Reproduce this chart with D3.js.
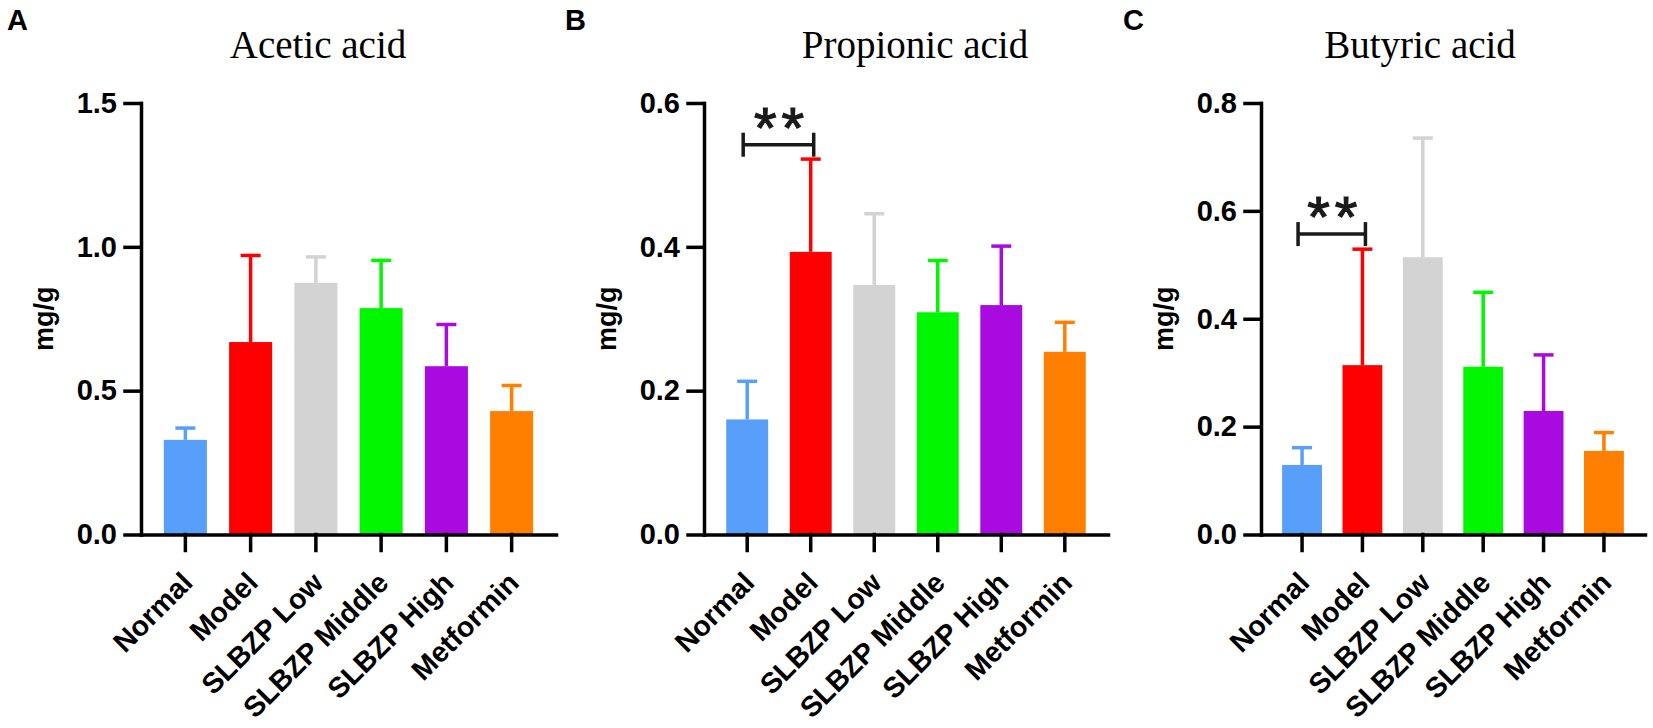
<!DOCTYPE html>
<html>
<head>
<meta charset="utf-8">
<script src="https://cdn.jsdelivr.net/npm/d3@7"></script>
<style>
  body { margin: 0; background: #fff; }
  .axis path, .axis line { stroke: #000; stroke-width: 3.5px; stroke-linecap: square; }
  .axis text { font-family: 'Liberation Sans', Arial, sans-serif; font-weight: bold; fill: #000; }
</style>
</head>
<body>
<div class="chart"></div>
<script>
/* global d3 */

const groups = ['Normal', 'Model', 'SLBZP Low', 'SLBZP Middle', 'SLBZP High', 'Metformin'];
const groupColors = ['#579ffa', '#ff0000', '#d3d3d3', '#00f700', '#a90adf', '#ff7f00'];

// mean and SD (upper error bar) per group
const aceticMean = [0.329, 0.669, 0.875, 0.787, 0.585, 0.429];
const aceticSD = [0.041, 0.301, 0.090, 0.166, 0.145, 0.089];
const propionicMean = [0.160, 0.393, 0.347, 0.309, 0.319, 0.254];
const propionicSD = [0.053, 0.129, 0.099, 0.072, 0.082, 0.041];
const butyricMean = [0.129, 0.314, 0.514, 0.311, 0.229, 0.155];
const butyricSD = [0.032, 0.215, 0.221, 0.138, 0.104, 0.034];

const aceticTicks = [0, 0.5, 1.0, 1.5];
const propionicTicks = [0, 0.2, 0.4, 0.6];
const butyricTicks = [0, 0.2, 0.4, 0.6, 0.8];

// significance brackets: [from group, to group, level, label]
const propionicSig = [['Normal', 'Model', 0.542, '**']];
const butyricSig = [['Normal', 'Model', 0.557, '**']];

document.addEventListener('DOMContentLoaded', () => {
  const width = 1653;
  const height = 728;
  const baseline = 534.5;
  const top = 103;

  const panels = [
    {letter: 'A', title: 'Acetic acid', mean: aceticMean, sd: aceticSD, ticks: aceticTicks,
      sig: [], x0: 141, x1: 556, letterX: 7, titleX: 318},
    {letter: 'B', title: 'Propionic acid', mean: propionicMean, sd: propionicSD, ticks: propionicTicks,
      sig: propionicSig, x0: 704, x1: 1108, letterX: 565, titleX: 915},
    {letter: 'C', title: 'Butyric acid', mean: butyricMean, sd: butyricSD, ticks: butyricTicks,
      sig: butyricSig, x0: 1261, x1: 1645, letterX: 1123, titleX: 1420}
  ];

  const svg = d3.select('.chart').append('svg')
    .attr('width', width).attr('height', height);

  const color = d3.scaleOrdinal().domain(groups).range(groupColors);

  panels.forEach(p => {
    const g = svg.append('g');
    const data = groups.map((name, i) => ({name, mean: p.mean[i], sd: p.sd[i]}));

    const x = d3.scaleBand().domain(groups)
      .range([p.x0, p.x1]).paddingInner(0.34).paddingOuter(0.35);
    const y = d3.scaleLinear().domain([0, d3.max(p.ticks)])
      .range([baseline, top]);

    // bars
    g.selectAll('.bar').data(data)
      .enter().append('rect')
      .attr('class', 'bar')
      .attr('x', d => x(d.name))
      .attr('width', x.bandwidth())
      .attr('y', d => y(d.mean))
      .attr('height', d => y(0) - y(d.mean))
      .attr('fill', d => color(d.name));

    // upper error bars
    const capW = 20;
    const err = g.selectAll('.err').data(data)
      .enter().append('g')
      .attr('class', 'err')
      .attr('stroke', d => color(d.name))
      .attr('stroke-width', 3.5);
    err.append('line')
      .attr('x1', d => x(d.name) + x.bandwidth() / 2)
      .attr('x2', d => x(d.name) + x.bandwidth() / 2)
      .attr('y1', d => y(d.mean))
      .attr('y2', d => y(d.mean + d.sd));
    err.append('line')
      .attr('x1', d => x(d.name) + x.bandwidth() / 2 - capW / 2)
      .attr('x2', d => x(d.name) + x.bandwidth() / 2 + capW / 2)
      .attr('y1', d => y(d.mean + d.sd))
      .attr('y2', d => y(d.mean + d.sd));

    // axes
    g.append('g').attr('class', 'axis')
      .attr('transform', `translate(${p.x0},0)`)
      .call(d3.axisLeft(y).tickValues(p.ticks).tickSize(16).tickSizeOuter(0)
        .tickPadding(8).tickFormat(d3.format('.1f')))
      .selectAll('text').style('font-size', '29px');

    g.append('g').attr('class', 'axis')
      .attr('transform', `translate(0,${baseline})`)
      .call(d3.axisBottom(x).tickSize(16).tickSizeOuter(0))
      .selectAll('text')
      .style('font-size', '28.5px')
      .attr('text-anchor', 'end')
      .attr('x', 0).attr('y', 0).attr('dy', null)
      .attr('transform', 'translate(9,50) rotate(-45)');

    // y axis title
    g.append('text')
      .attr('transform', `translate(${p.x0 - 97},${(baseline + top) / 2}) rotate(-90)`)
      .attr('text-anchor', 'middle')
      .attr('dy', '0.35em')
      .style('font-family', "'Liberation Sans', Arial, sans-serif")
      .style('font-weight', 'bold')
      .style('font-size', '27px')
      .text('mg/g');

    // panel title and letter
    g.append('text')
      .attr('x', p.titleX).attr('y', 58)
      .attr('text-anchor', 'middle')
      .style('font-family', "'Liberation Serif', 'Times New Roman', serif")
      .style('font-size', '39px')
      .text(p.title);

    g.append('text')
      .attr('x', p.letterX).attr('y', 30)
      .style('font-family', "'Liberation Sans', Arial, sans-serif")
      .style('font-weight', 'bold')
      .style('font-size', '29px')
      .text(p.letter);

    // significance brackets
    p.sig.forEach(([a, b, level, label]) => {
      const xa = x(a) + x.bandwidth() / 2 - 4;
      const xb = x(b) + x.bandwidth() / 2 + 3;
      const yl = y(level);
      const br = g.append('g').attr('stroke', '#1a1a1a').attr('stroke-width', 3.5).attr('fill', 'none');
      br.append('line').attr('x1', xa).attr('x2', xb).attr('y1', yl).attr('y2', yl);
      br.append('line').attr('x1', xa).attr('x2', xa).attr('y1', yl - 12).attr('y2', yl + 12);
      br.append('line').attr('x1', xb).attr('x2', xb).attr('y1', yl - 12).attr('y2', yl + 12);
      g.append('text')
        .attr('x', (xa + xb) / 2 + 3).attr('y', yl + 3)
        .attr('text-anchor', 'middle')
        .style('font-family', "'Liberation Sans', Arial, sans-serif")
        .style('font-size', '58px')
        .style('letter-spacing', '5px')
        .style('stroke', '#1a1a1a').style('stroke-width', '1.2px')
        .attr('fill', '#1a1a1a')
        .text(label);
    });
  });
});
</script>
</body>
</html>
